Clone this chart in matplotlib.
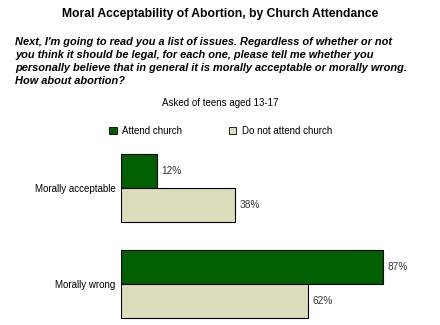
import numpy as np
import matplotlib.pyplot as plt
from matplotlib.patches import Patch

plt.rcParams['font.family'] = ['Liberation Sans', 'DejaVu Sans']

# Daten
kategorien = ['Morally acceptable', 'Morally wrong']
attend = [12, 87]
nicht_attend = [38, 62]
serien = ['Attend church', 'Do not attend church']
farben = ['#006000', '#DDDDBB']

fig = plt.figure(figsize=(4.4, 3.25), dpi=100)
W, H = 440, 325

# Achse: x 0..100 von px 121 bis 422, Gruppen bei px 188 und 284
ax = fig.add_axes([121 / W, 0, 301 / W, (325 - 145) / H])
pro_einheit = 96
ax.set_xlim(0, 100)
ax.set_ylim((325 - 188) / pro_einheit, (145 - 188) / pro_einheit)

y = np.arange(len(kategorien))
h = 34 / pro_einheit
ax.barh(y - h / 2, attend, height=h, color=farben[0], edgecolor='black', linewidth=0.8)
ax.barh(y + h / 2, nicht_attend, height=h, color=farben[1], edgecolor='black', linewidth=0.8)

for i in range(len(kategorien)):
    ax.text(attend[i] + 1.5, y[i] - h / 2, f'{attend[i]}%', va='center', fontsize=7.3, color='#333333')
    ax.text(nicht_attend[i] + 1.5, y[i] + h / 2, f'{nicht_attend[i]}%', va='center', fontsize=7.3, color='#333333')

ax.set_yticks(y)
ax.set_yticklabels(kategorien, fontsize=7)
ax.tick_params(axis='y', length=0, pad=4)
ax.set_xticks([])
for s in ax.spines.values():
    s.set_visible(False)

# Titel und Frage
fig.text(0.5, 1 - 14 / H, 'Moral Acceptability of Abortion, by Church Attendance',
         ha='center', va='center', fontsize=8.7, fontweight='bold')
frage = ("Next, I'm going to read you a list of issues. Regardless of whether or not\n"
         "you think it should be legal, for each one, please tell me whether you\n"
         "personally believe that in general it is morally acceptable or morally wrong.\n"
         "How about abortion?")
fig.text(15 / W, 1 - 37 / H, frage, ha='left', va='top', fontsize=7.9,
         fontweight='bold', style='italic', linespacing=1.38)
fig.text(0.5, 1 - 103 / H, 'Asked of teens aged 13-17', ha='center', va='center', fontsize=7)

handles = [Patch(facecolor=farben[0], edgecolor='black', linewidth=0.6),
           Patch(facecolor=farben[1], edgecolor='black', linewidth=0.6)]
fig.legend(handles, serien, loc='center left', bbox_to_anchor=(100 / W, 1 - 131 / H),
           ncol=2, frameon=False, fontsize=7, handlelength=0.8, handleheight=0.8,
           handletextpad=0.55, columnspacing=4.8)

fig.savefig('out.png', dpi=100)
